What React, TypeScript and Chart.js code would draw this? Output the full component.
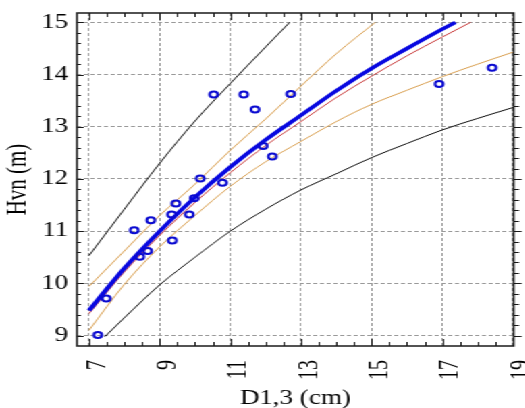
import React, { useEffect, useRef } from "react";
import { Chart, registerables } from "chart.js";

Chart.register(...registerables);

// The reference picture is horizontally stretched; the chart is drawn narrower and scaled.
const STRETCH = 1.35;
const W = 389;
const H = 408;

const xTicks = [7, 9, 11, 13, 15, 17, 19];
const yTicks = [9, 10, 11, 12, 13, 14, 15];

// observed trees
const obsD = [10.53, 11.38, 11.7, 10.15, 10.78, 9.46, 9.98, 12.71, 11.93, 12.19, 16.91, 18.41, 8.28, 8.75, 9.34, 9.84, 9.36, 8.66, 8.44, 7.49, 7.25];
const obsH = [13.62, 13.62, 13.33, 12.01, 11.93, 11.53, 11.63, 13.63, 12.63, 12.43, 13.82, 14.13, 11.02, 11.21, 11.32, 11.32, 10.82, 10.62, 10.51, 9.71, 9.01];

// fitted curve (thick blue)
const fitD = [7, 8, 9, 10, 11, 12, 13, 14, 15, 16, 17, 17.37];
const fitH = [9.48, 10.29, 11.0, 11.65, 12.23, 12.75, 13.22, 13.69, 14.12, 14.5, 14.87, 15.0];

// second curve (thin red)
const altD = [7, 8, 9, 10, 11, 12, 13, 14, 15, 16, 17, 17.8];
const altH = [9.42, 10.22, 10.92, 11.55, 12.12, 12.64, 13.1, 13.56, 13.97, 14.36, 14.72, 15.0];

// confidence band (orange)
const ciUpD = [7, 8, 9, 10, 11, 12, 13, 14, 15.1];
const ciUpH = [9.94, 10.62, 11.3, 11.9, 12.55, 13.15, 13.78, 14.4, 15.0];
const ciLoD = [7, 8, 9, 10, 11, 12, 13, 14, 15, 16, 17, 18, 19];
const ciLoH = [9.1, 9.98, 10.7, 11.3, 11.86, 12.33, 12.72, 13.1, 13.43, 13.7, 13.96, 14.2, 14.43];

// prediction band (black)
const piUpD = [7, 8, 9, 10, 11, 12, 12.68];
const piUpH = [10.53, 11.42, 12.3, 13.11, 13.83, 14.53, 15.0];
const piLoD = [7.45, 8, 9, 10, 11, 12, 13, 14, 15, 16, 17, 18, 19];
const piLoH = [8.98, 9.34, 9.97, 10.5, 11.0, 11.42, 11.79, 12.1, 12.41, 12.68, 12.94, 13.16, 13.37];

const xTitle = "D1,3 (cm)";
const yTitle = "Hvn (m)";

const pts = (xs: number[], ys: number[]) => xs.map((x, i) => ({ x, y: ys[i] }));

const FONT = "'Liberation Serif', 'Times New Roman', serif";

const framePlugin = {
  id: "frameTicks",
  afterDatasetsDraw(chart: any) {
    const { ctx, chartArea: a, scales } = chart;
    const xs = scales.x;
    const ys = scales.y;
    ctx.save();
    ctx.strokeStyle = "#1a1a1a";
    ctx.lineWidth = 1;
    ctx.beginPath();
    for (let i = 0; i <= 24; i++) {
      const v = xTicks[0] + i * 0.5;
      const major = i % 4 === 0;
      const px = Math.round(xs.getPixelForValue(v)) + 0.5;
      const len = major ? 7 : 4;
      ctx.moveTo(px, a.bottom);
      ctx.lineTo(px, a.bottom - len);
      ctx.moveTo(px, a.top);
      ctx.lineTo(px, a.top + len);
    }
    for (let i = 0; i <= 30; i++) {
      const v = yTicks[0] + i * 0.2;
      const major = i % 5 === 0;
      const py = Math.round(ys.getPixelForValue(v)) + 0.5;
      const lenL = major ? 5 : 3;
      const lenR = major ? 6 : 4;
      ctx.moveTo(a.left, py);
      ctx.lineTo(a.left + lenL, py);
      ctx.moveTo(a.right, py);
      ctx.lineTo(a.right + lenR, py);
    }
    ctx.stroke();
    ctx.lineWidth = 1.5;
    ctx.strokeRect(a.left, a.top, a.right - a.left, a.bottom - a.top);
    ctx.restore();
  },
};

export default function App() {
  const ref = useRef<HTMLCanvasElement | null>(null);

  useEffect(() => {
    if (!ref.current) return;
    const lineDs = (label: string, data: any[], color: string, width: number) => ({
      label,
      data,
      showLine: true,
      borderColor: color,
      backgroundColor: color,
      borderWidth: width,
      pointRadius: 0,
      fill: false,
      cubicInterpolationMode: "monotone" as const,
      clip: 0,
    });
    const chart = new Chart(ref.current, {
      type: "scatter",
      data: {
        datasets: [
          {
            label: "Observed",
            data: pts(obsD, obsH),
            showLine: false,
            pointRadius: 3,
            pointBorderWidth: 2,
            pointBorderColor: "#0a0ad0",
            pointBackgroundColor: "rgba(255,255,255,0)",
            borderColor: "#0a0ad0",
            backgroundColor: "rgba(255,255,255,0)",
          },
          lineDs("Fit", pts(fitD, fitH), "#0808e0", 3.5),
          lineDs("Alt", pts(altD, altH), "#c83c3c", 1),
          lineDs("CI upper", pts(ciUpD, ciUpH), "#d9a052", 1),
          lineDs("CI lower", pts(ciLoD, ciLoH), "#d9a052", 1),
          lineDs("PI upper", pts(piUpD, piUpH), "#111111", 1),
          lineDs("PI lower", pts(piLoD, piLoH), "#111111", 1),
        ],
      },
      options: {
        animation: false,
        responsive: false,
        devicePixelRatio: 1,
        events: [],
        layout: { autoPadding: false, padding: { top: 13, right: 8.5, left: 0, bottom: 0 } },
        plugins: {
          legend: { display: false },
          tooltip: { enabled: false },
          title: { display: false },
        },
        scales: {
          x: {
            type: "linear",
            min: 6.66,
            max: 19.02,
            afterBuildTicks: (s: any) => {
              s.ticks = xTicks.map((v) => ({ value: v }));
            },
            afterFit: (s: any) => {
              s.height = 62;
              s.paddingLeft = 0;
              s.paddingRight = 0;
            },
            ticks: {
              autoSkip: false,
              minRotation: 90,
              maxRotation: 90,
              padding: 14,
              labelOffset: 6.5,
              color: "#000",
              font: { family: FONT, size: 20 },
              callback: (v: any) => String(v),
            },
            grid: { color: "#9a9a9a", lineWidth: 1, drawTicks: false },
            border: { display: false, dash: [3, 2] },
            title: {
              display: true,
              text: xTitle,
              color: "#000",
              font: { family: FONT, size: 20, lineHeight: 1 },
              padding: { top: 0, bottom: -1 },
            },
          },
          y: {
            type: "linear",
            min: 8.8,
            max: 15.18,
            afterBuildTicks: (s: any) => {
              s.ticks = yTicks.map((v) => ({ value: v }));
            },
            afterFit: (s: any) => {
              s.width = 57;
              s.paddingTop = 0;
              s.paddingBottom = 0;
            },
            ticks: {
              autoSkip: false,
              padding: 6.5,
              color: "#000",
              font: { family: FONT, size: 20 },
              callback: (v: any) => String(v),
            },
            grid: { color: "#9a9a9a", lineWidth: 1, drawTicks: false },
            border: { display: false, dash: [3, 2] },
            title: {
              display: true,
              text: yTitle,
              color: "#000",
              font: { family: FONT, size: 21, lineHeight: 1.15 },
              padding: { top: 1.5, bottom: 0 },
            },
          },
        },
      },
      plugins: [framePlugin],
    });
    return () => chart.destroy();
  }, []);

  return (
    <div
      style={{
        position: "absolute",
        left: 0,
        top: 0,
        width: W,
        height: H,
        transform: `scaleX(${STRETCH})`,
        transformOrigin: "0 0",
        background: "#fff",
      }}
    >
      <canvas ref={ref} width={W} height={H} style={{ display: "block", width: W, height: H }} />
    </div>
  );
}
